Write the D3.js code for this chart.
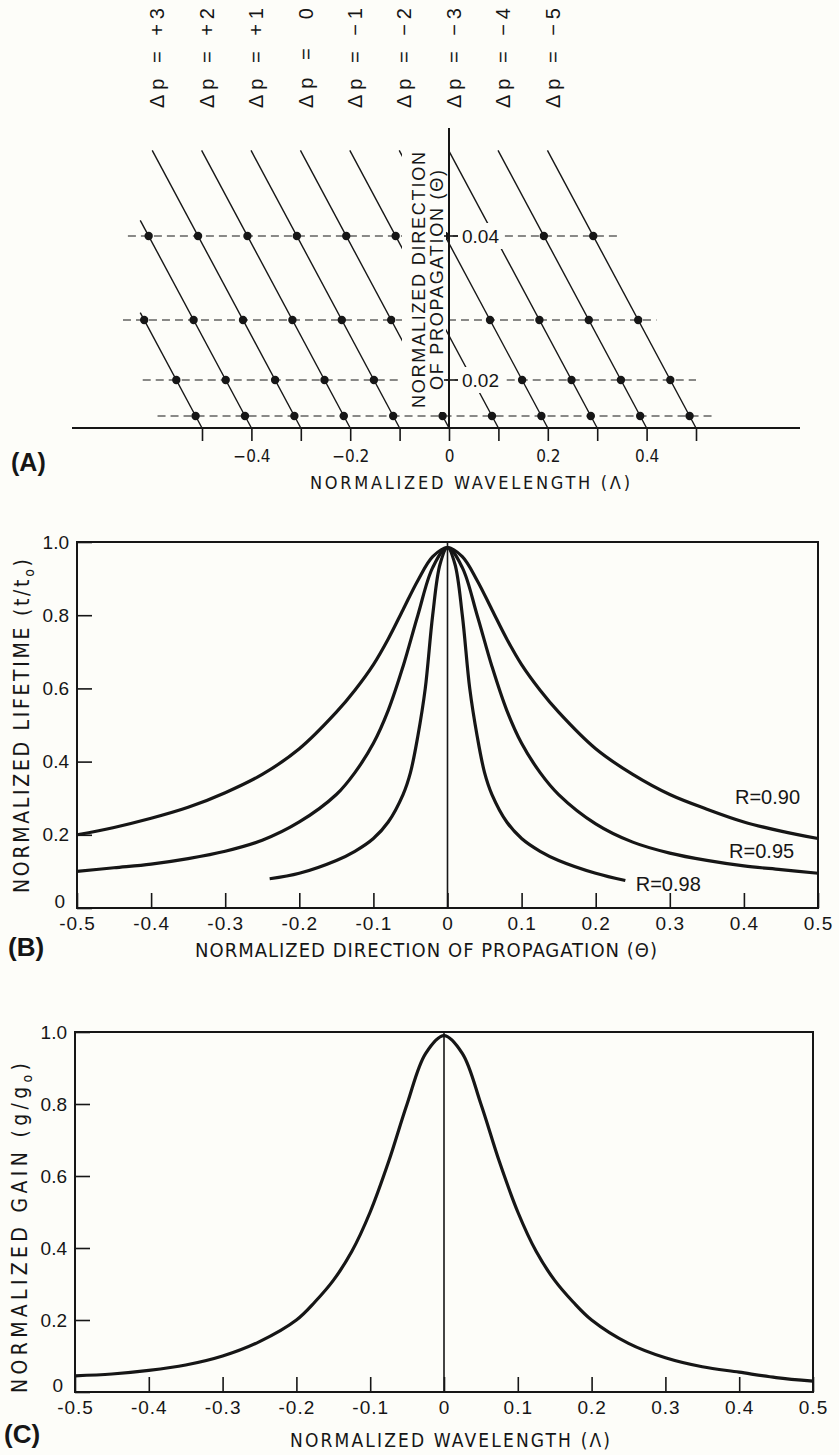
<!DOCTYPE html>
<html>
<head>
<meta charset="utf-8">
<script src="https://cdn.jsdelivr.net/npm/d3@7/dist/d3.min.js"></script>
<style>
  body { margin: 0; background: #fdfdf9; }
  svg { display: block; }
  text { fill: #161616; font-family: "Liberation Sans", Arial, sans-serif; }
  .narrow { font-family: "Liberation Sans Narrow", "DejaVu Sans Condensed", "Liberation Sans", sans-serif; }
  .tick line { stroke: #161616; stroke-width: 1.6; }
</style>
</head>
<body>
<div id="root"></div>
<script>
// ---------- panel A: resonance lines in the (wavelength, direction) plane ----------
var lambdaA = [-0.5, -0.4, -0.3, -0.2, -0.1, 0, 0.1, 0.2, 0.3, 0.4, 0.5];   // where each line meets Θ = 0
var deltaP = [3, 2, 1, 0, -1, -2, -3, -4, -5];
var deltaPLambda = [-0.3, -0.2, -0.1, 0, 0.1, 0.2, 0.3, 0.4, 0.5];
var thetaLevels = [0.01, 0.02, 0.03, 0.04];                                   // dashed lines
var levelFrom = [-0.59, -0.62, -0.66, -0.65];
var levelTo = [0.54, 0.50, 0.42, 0.34];
var lambdaPerTheta2 = -130;        // shift of a line, in Λ per Θ²
var thetaTopA = 0.0481;
var lambdaLeftA = -0.625;
var lambdaTicksA = [-0.5, -0.4, -0.3, -0.2, -0.1, 0, 0.1, 0.2, 0.3, 0.4, 0.5];
var lambdaLabelsA = [-0.4, -0.2, 0, 0.2, 0.4];
var thetaTicksA = [0.02, 0.04];

// ---------- panel B: normalized lifetime vs direction ----------
var thetaB = [-0.5, -0.45, -0.4, -0.35, -0.3, -0.25, -0.2, -0.15, -0.125, -0.1, -0.08, -0.06, -0.04, -0.02, 0,
              0.02, 0.04, 0.06, 0.08, 0.1, 0.125, 0.15, 0.2, 0.25, 0.3, 0.35, 0.4, 0.45, 0.5];
var lifeR90 = [0.20, 0.22, 0.245, 0.275, 0.315, 0.365, 0.435, 0.535, 0.595, 0.665, 0.735, 0.815, 0.895, 0.96, 0.985,
               0.96, 0.895, 0.815, 0.735, 0.665, 0.595, 0.535, 0.435, 0.365, 0.31, 0.27, 0.235, 0.21, 0.19];
var lifeR95 = [0.10, 0.11, 0.12, 0.135, 0.155, 0.185, 0.235, 0.31, 0.37, 0.45, 0.54, 0.66, 0.80, 0.93, 0.985,
               0.93, 0.80, 0.66, 0.54, 0.45, 0.37, 0.31, 0.23, 0.18, 0.15, 0.13, 0.115, 0.105, 0.095];
var thetaB98 = [-0.24, -0.2, -0.15, -0.125, -0.1, -0.08, -0.06, -0.05, -0.04, -0.03, -0.02, -0.01, 0,
                0.01, 0.02, 0.03, 0.04, 0.05, 0.06, 0.08, 0.1, 0.125, 0.15, 0.2, 0.24];
var lifeR98 = [0.08, 0.095, 0.13, 0.155, 0.19, 0.235, 0.31, 0.37, 0.47, 0.60, 0.80, 0.94, 0.985,
               0.94, 0.80, 0.60, 0.47, 0.37, 0.31, 0.235, 0.19, 0.155, 0.13, 0.095, 0.075];
var rLabels = ["R=0.90", "R=0.95", "R=0.98"];

// ---------- panel C: normalized gain vs wavelength ----------
var lambdaC = [-0.5, -0.45, -0.4, -0.35, -0.3, -0.25, -0.2, -0.175, -0.15, -0.125, -0.1, -0.075, -0.05, -0.025, 0,
               0.025, 0.05, 0.075, 0.1, 0.125, 0.15, 0.175, 0.2, 0.25, 0.3, 0.35, 0.4, 0.45, 0.5];
var gainC = [0.045, 0.05, 0.06, 0.075, 0.10, 0.14, 0.20, 0.25, 0.31, 0.39, 0.50, 0.64, 0.80, 0.94, 0.99,
             0.94, 0.80, 0.64, 0.50, 0.39, 0.31, 0.25, 0.20, 0.135, 0.095, 0.07, 0.055, 0.04, 0.03];

var ticksBC = [-0.5, -0.4, -0.3, -0.2, -0.1, 0, 0.1, 0.2, 0.3, 0.4, 0.5];
var yTicksBC = [0, 0.2, 0.4, 0.6, 0.8, 1.0];

var ink = "#161616", paper = "#fdfdf9";

function fmt(d, minus) {
    if (d === 0) return "0";
    var s = d.toFixed(d < 0.05 && d > -0.05 ? 2 : 1);
    return s.replace("-", minus || "-");
}

var svg = d3.select("#root").append("svg")
    .attr("width", 839)
    .attr("height", 1455);

svg.append("rect").attr("width", 839).attr("height", 1455).attr("fill", paper);

// ================= (A) =================
var xA = d3.scaleLinear().domain([-0.5, 0.5]).range([202, 696]);
var yA = d3.scalePow().exponent(2).domain([0, 0.05]).range([428, 128]);
var gA = svg.append("g");

function lambdaAt(l0, th) { return l0 + lambdaPerTheta2 * th * th; }
function topTheta(l0) {
    return Math.min(thetaTopA, Math.sqrt((l0 - lambdaLeftA) / -lambdaPerTheta2));
}

gA.selectAll(".level")
    .data(thetaLevels)
    .enter()
    .append("line")
    .attr("x1", (d, i) => xA(levelFrom[i]))
    .attr("x2", (d, i) => xA(levelTo[i]))
    .attr("y1", d => yA(d))
    .attr("y2", d => yA(d))
    .attr("stroke", ink)
    .attr("stroke-width", 1.2)
    .attr("stroke-dasharray", "8 5");

gA.selectAll(".res")
    .data(lambdaA)
    .enter()
    .append("line")
    .attr("x1", d => xA(d))
    .attr("y1", yA(0))
    .attr("x2", d => xA(lambdaAt(d, topTheta(d))))
    .attr("y2", d => yA(topTheta(d)))
    .attr("stroke", ink)
    .attr("stroke-width", 1.4);

// a dot where every line crosses a dashed level
var dots = [];
lambdaA.forEach(function (l0) {
    thetaLevels.forEach(function (th) {
        if (th <= topTheta(l0)) dots.push([lambdaAt(l0, th), th]);
    });
});
gA.selectAll(".dot")
    .data(dots)
    .enter()
    .append("circle")
    .attr("cx", d => xA(d[0]))
    .attr("cy", d => yA(d[1]))
    .attr("r", 4.2)
    .attr("fill", ink);

// the axis lettering sits on white patches that hide the lines
gA.append("rect").attr("x", 402).attr("y", 152).attr("width", 44).attr("height", 260).attr("fill", paper);
gA.selectAll(".tmask")
    .data(thetaTicksA)
    .enter()
    .append("rect")
    .attr("x", 458).attr("y", d => yA(d) - 13)
    .attr("width", 46).attr("height", 26)
    .attr("fill", paper);

// axes
gA.append("line")
    .attr("x1", 72).attr("x2", 800)
    .attr("y1", yA(0)).attr("y2", yA(0))
    .attr("stroke", ink).attr("stroke-width", 2.2);
gA.append("line")
    .attr("x1", xA(0)).attr("x2", xA(0))
    .attr("y1", yA(0)).attr("y2", yA(0.05))
    .attr("stroke", ink).attr("stroke-width", 2);

var xAxisA = d3.axisBottom(xA)
    .tickValues(lambdaTicksA)
    .tickSize(13)
    .tickPadding(9)
    .tickFormat(d => lambdaLabelsA.indexOf(d) >= 0 ? fmt(d, "\u2212") : "");
gA.append("g")
    .attr("transform", "translate(0," + yA(0) + ")")
    .call(xAxisA)
    .call(g => g.select(".domain").remove())
    .selectAll("text")
    .attr("class", "narrow")
    .style("font-size", "17px");

gA.selectAll(".ytick")
    .data(thetaTicksA)
    .enter()
    .append("line")
    .attr("x1", xA(0) - 5).attr("x2", xA(0) + 9)
    .attr("y1", d => yA(d)).attr("y2", d => yA(d))
    .attr("stroke", ink).attr("stroke-width", 1.6);
gA.selectAll(".ylab")
    .data(thetaTicksA)
    .enter()
    .append("text")
    .attr("x", xA(0) + 13)
    .attr("y", d => yA(d))
    .attr("dy", "0.36em")
    .style("font-size", "19px")
    .text(d => fmt(d));

// rotated axis title beside the vertical axis
var yTitleA = gA.append("text")
    .attr("transform", "translate(0,280) rotate(-90)")
    .attr("text-anchor", "middle")
    .style("font-size", "18px");
yTitleA.append("tspan").attr("x", 0).attr("y", 425).attr("textLength", 256).text("NORMALIZED DIRECTION");
yTitleA.append("tspan").attr("x", 0).attr("y", 443).attr("textLength", 220).text("OF PROPAGATION (\u0398)");

// Δp labels over the line tops
gA.selectAll(".dp")
    .data(deltaP)
    .enter()
    .append("text")
    .attr("transform", function (d, i) {
        var x = xA(lambdaAt(deltaPLambda[i], thetaTopA)) + 5;
        return "translate(" + x + ",108) rotate(-90)";
    })
    .attr("dy", "0.36em")
    .attr("textLength", 100)
    .attr("xml:space", "preserve")
    .style("font-size", "20px")
    .text(d => "\u0394p = " + (d > 0 ? "+" + d : d < 0 ? "\u2212" + (-d) : " 0"));

gA.append("text")
    .attr("x", 11).attr("y", 471)
    .style("font-size", "25px").style("font-weight", "bold")
    .text("(A)");
gA.append("text")
    .attr("class", "narrow")
    .attr("x", 470).attr("y", 489)
    .attr("text-anchor", "middle")
    .attr("textLength", 320)
    .style("font-size", "18px")
    .text("NORMALIZED WAVELENGTH  (\u039B)");

// ================= shared frame drawing for B and C =================
function framedPanel(x, y) {
    var g = svg.append("g");
    var r = x.range(), t = y.range();
    g.append("rect")
        .attr("x", r[0]).attr("y", t[1])
        .attr("width", r[1] - r[0]).attr("height", t[0] - t[1])
        .attr("fill", "none").attr("stroke", ink).attr("stroke-width", 2);
    g.append("line")
        .attr("x1", x(0)).attr("x2", x(0))
        .attr("y1", t[0]).attr("y2", t[1])
        .attr("stroke", ink).attr("stroke-width", 1.6);

    g.append("g")
        .attr("transform", "translate(" + r[0] + ",0)")
        .call(d3.axisLeft(y).tickValues(yTicksBC).tickSize(-15).tickPadding(8)
            .tickFormat(d => d === 0 ? "0" : d.toFixed(1)))
        .call(g => g.select(".domain").remove())
        .selectAll("text")
        .style("font-size", "19px")
        // the corner "0" sits a little up and left of the "-0.5" below it
        .attr("dy", d => d === 0 ? "-0.05em" : "0.32em")
        .attr("x", d => d === 0 ? -12 : -8);

    g.append("g")
        .attr("transform", "translate(0," + t[0] + ")")
        .call(d3.axisBottom(x).tickValues(ticksBC).tickSize(-15).tickPadding(9)
            .tickFormat(d => fmt(d)))
        .call(g => g.select(".domain").remove())
        .selectAll("text").style("font-size", "19px").style("letter-spacing", "1px");
    return g;
}

var curve = function (x, y) {
    return d3.line()
        .x(d => x(d[0]))
        .y(d => y(d[1]))
        .curve(d3.curveCatmullRom.alpha(0.5));
};

// ================= (B) =================
var xB = d3.scaleLinear().domain([-0.5, 0.5]).range([77, 818]);
var yB = d3.scaleLinear().domain([0, 1]).range([908, 542]);
var gB = framedPanel(xB, yB);

var seriesB = [
    d3.zip(thetaB, lifeR90),
    d3.zip(thetaB, lifeR95),
    d3.zip(thetaB98, lifeR98)
];
gB.selectAll(".life")
    .data(seriesB)
    .enter()
    .append("path")
    .attr("d", curve(xB, yB))
    .attr("fill", "none")
    .attr("stroke", ink)
    .attr("stroke-width", 3.2)
    .attr("stroke-linejoin", "round");

var rLabelAt = [[0.388, 0.303], [0.38, 0.155], [0.254, 0.066]];
gB.selectAll(".rlab")
    .data(rLabels)
    .enter()
    .append("text")
    .attr("x", (d, i) => xB(rLabelAt[i][0]))
    .attr("y", (d, i) => yB(rLabelAt[i][1]))
    .attr("dy", "0.36em")
    .style("font-size", "20px")
    .text(d => d);

gB.append("text")
    .attr("x", 8).attr("y", 956)
    .style("font-size", "26px").style("font-weight", "bold")
    .text("(B)");
gB.append("text")
    .attr("class", "narrow")
    .attr("x", 195).attr("y", 957)
    .attr("textLength", 462)
    .style("font-size", "20px")
    .text("NORMALIZED DIRECTION  OF  PROPAGATION  (\u0398)");

var yTitleB = gB.append("text")
    .attr("class", "narrow")
    .attr("transform", "translate(29,726) rotate(-90)")
    .attr("text-anchor", "middle")
    .attr("textLength", 334)
    .style("font-size", "21px");
yTitleB.append("tspan").text("NORMALIZED LIFETIME (t/t");
yTitleB.append("tspan").attr("dy", 5).style("font-size", "14px").text("o");
yTitleB.append("tspan").attr("dy", -5).text(")");

// ================= (C) =================
var xC = d3.scaleLinear().domain([-0.5, 0.5]).range([75, 813]);
var yC = d3.scaleLinear().domain([0, 1]).range([1392, 1032]);
var gC = framedPanel(xC, yC);

gC.append("path")
    .datum(d3.zip(lambdaC, gainC))
    .attr("d", curve(xC, yC))
    .attr("fill", "none")
    .attr("stroke", ink)
    .attr("stroke-width", 3.2)
    .attr("stroke-linejoin", "round");

gC.append("text")
    .attr("x", 4).attr("y", 1443)
    .style("font-size", "26px").style("font-weight", "bold")
    .text("(C)");
gC.append("text")
    .attr("class", "narrow")
    .attr("x", 450).attr("y", 1447)
    .attr("text-anchor", "middle")
    .attr("textLength", 320)
    .style("font-size", "19px")
    .text("NORMALIZED WAVELENGTH  (\u039B)");

var yTitleC = gC.append("text")
    .attr("class", "narrow")
    .attr("transform", "translate(27,1228) rotate(-90)")
    .attr("text-anchor", "middle")
    .attr("textLength", 330)
    .style("font-size", "21px");
yTitleC.append("tspan").text("NORMALIZED GAIN (g/g");
yTitleC.append("tspan").attr("dy", 5).style("font-size", "14px").text("o");
yTitleC.append("tspan").attr("dy", -5).text(")");
</script>
</body>
</html>
